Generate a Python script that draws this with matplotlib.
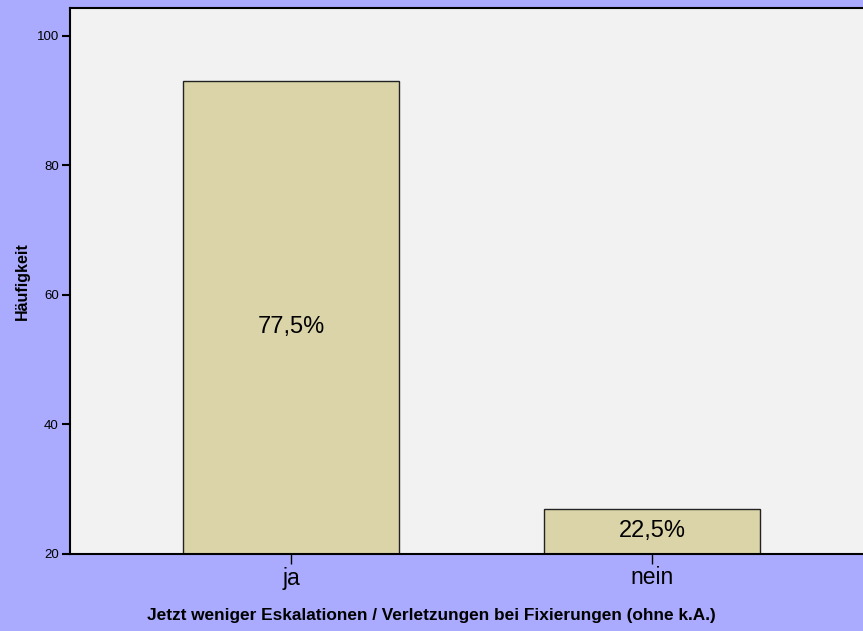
import matplotlib.pyplot as plt

plt.rcParams['font.family'] = ['Liberation Sans', 'DejaVu Sans']

categories = ['ja', 'nein']
counts = [93, 27]
percent_labels = ['77,5%', '22,5%']
yticks = [20, 40, 60, 80, 100]

fig = plt.figure(figsize=(8.63, 6.31), dpi=100)
fig.patch.set_facecolor('#AAAAFF')
ax = fig.add_axes([70 / 863, 77 / 631, 793 / 863, 546 / 631])
ax.set_facecolor('#F2F2F2')

base = 20
x = list(range(len(categories)))
heights = [c - base for c in counts]
ax.bar(x, heights, bottom=base, width=0.6, color='#DBD4A8',
       edgecolor='#222222', linewidth=1.0, zorder=2)

for xi, c, lab in zip(x, counts, percent_labels):
    mid = (base + c) / 2
    if c > 60:
        mid -= 1.5
    ax.text(xi, mid, lab, ha='center', va='center', fontsize=17, color='black', zorder=3)

ax.set_xlim(-0.612, 1.584)
ax.set_ylim(20, 104.3)
ax.set_xticks(x)
ax.set_xticklabels(categories, fontsize=16.5)
ax.set_yticks(yticks)
ax.set_yticklabels([str(t) for t in yticks], fontsize=9.5)
ax.tick_params(axis='y', length=6, width=1.5, pad=2)
ax.tick_params(axis='x', length=7, width=1.0, pad=2)

for side in ['left', 'bottom', 'top']:
    ax.spines[side].set_linewidth(1.5)
    ax.spines[side].set_color('black')
ax.spines['right'].set_visible(False)

ax.set_ylabel('Häufigkeit', fontsize=11.5, fontweight='bold')
ax.yaxis.set_label_coords(-0.05, 0.5)
ax.set_xlabel('Jetzt weniger Eskalationen / Verletzungen bei Fixierungen (ohne k.A.)',
              fontsize=12.4, fontweight='bold')
ax.xaxis.set_label_coords(0.456, -0.112)
ax.xaxis.label.set_va('center')

fig.savefig('out.png', dpi=100, facecolor=fig.get_facecolor())
